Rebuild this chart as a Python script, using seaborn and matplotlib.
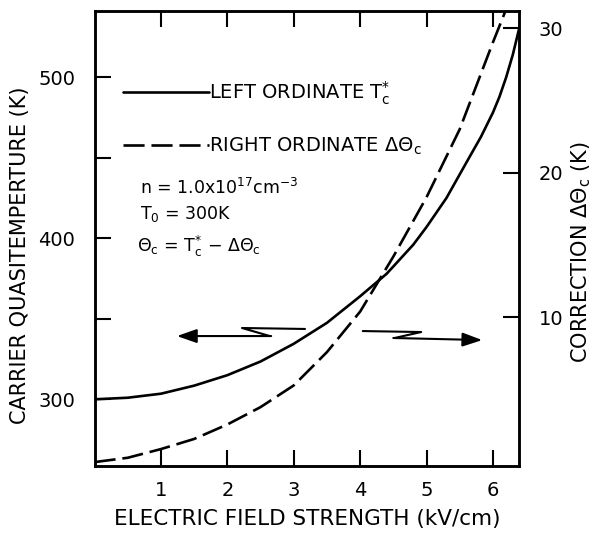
import matplotlib
matplotlib.use("Agg")
import matplotlib.pyplot as plt
import seaborn as sns

# ---- data ----
field_left = [0.0, 0.5, 1.0, 1.5, 2.0, 2.5, 3.0, 3.5, 4.0, 4.4, 4.8, 5.0, 5.3, 5.6, 5.82, 6.0, 6.1, 6.2, 6.3, 6.4]
temp_left = [300, 301, 303.5, 308.5, 315, 323.5, 334.5, 347.5, 364, 378, 396, 407, 425, 447, 463, 478, 488, 500, 514, 531]

field_right = [0.0, 0.5, 1.0, 1.5, 2.0, 2.5, 3.0, 3.5, 4.0, 4.5, 5.0, 5.5, 6.0, 6.2]
corr_right = [0.0, 0.3, 0.9, 1.6, 2.6, 3.8, 5.3, 7.6, 10.4, 14.2, 18.3, 23.0, 29.0, 31.3]

x_ticks = [1, 2, 3, 4, 5, 6]
x_ticklabels = ["1", "2", "3", "4", "5", "6"]
left_ticks = [300, 350, 400, 450, 500]
left_ticklabels = ["300", "", "400", "", "500"]
right_ticks = [10, 20, 30]
right_ticklabels = ["10", "20", "30"]

label_left = r"LEFT ORDINATE $\mathregular{T_c^{*}}$"
label_right = r"RIGHT ORDINATE $\mathregular{\Delta\Theta_c}$"

sns.set_theme(style="ticks")
plt.rcParams['font.family'] = ['DejaVu Sans']
plt.rcParams['mathtext.default'] = 'regular'
plt.rcParams['text.color'] = 'black'
plt.rcParams['axes.labelcolor'] = 'black'

fig = plt.figure(figsize=(5.95, 5.36), dpi=100)
ax = fig.add_axes([0.159, 0.1306, 0.714, 0.849])
ax2 = ax.twinx()

sns.lineplot(x=field_left, y=temp_left, ax=ax, color='black', linewidth=1.9,
             label=label_left, legend=False)
sns.lineplot(x=field_right, y=corr_right, ax=ax2, color='black', linewidth=1.9,
             linestyle=(0, (8, 2.6)), label=label_right, legend=False)

ax.set_xlim(0, 6.4)
ax.set_ylim(258.6, 541.2)
ax2.set_ylim(-0.27, 31.18)

ax.set_xticks(x_ticks)
ax.set_xticklabels(x_ticklabels)
ax.set_yticks(left_ticks)
ax.set_yticklabels(left_ticklabels)
ax2.set_yticks(right_ticks)
ax2.set_yticklabels(right_ticklabels)

ax.tick_params(axis='x', direction='in', length=11.5, width=1.5, top=True,
               labeltop=False, labelsize=14, pad=11, colors='black')
ax.tick_params(axis='y', direction='in', length=11.5, width=1.5, right=False,
               labelsize=14, pad=14, colors='black')
ax2.tick_params(axis='y', direction='in', length=11.5, width=1.5,
                labelsize=14, pad=14, colors='black')

for a in (ax, ax2):
    for s in a.spines.values():
        s.set_visible(True)
        s.set_linewidth(1.8)
        s.set_color('black')

ax.set_xlabel("ELECTRIC FIELD STRENGTH (kV/cm)", fontsize=15.5, labelpad=6)
ax.set_ylabel("CARRIER QUASITEMPERTURE (K)", fontsize=15)
ax.yaxis.set_label_coords(-0.152, 0.464)
ax2.set_ylabel(r"CORRECTION $\mathregular{\Delta\Theta_c}$ (K)", fontsize=15)
ax2.yaxis.set_label_coords(1.117, 0.47)

# legend
h1, l1 = ax.get_legend_handles_labels()
h2, l2 = ax2.get_legend_handles_labels()
if ax.get_legend():
    ax.get_legend().remove()
leg = ax2.legend(h1 + h2, l1 + l2, loc='upper left', bbox_to_anchor=(0.068, 0.85),
                 frameon=False, fontsize=14, handlelength=4.4, handletextpad=0.0,
                 labelspacing=1.5, borderpad=0, borderaxespad=0)

# annotation text
ax2.text(0.107, 0.611, r"n = 1.0x10$^{17}$cm$^{-3}$", transform=ax.transAxes,
         fontsize=12.5, va='center', ha='left')
ax2.text(0.107, 0.554, r"T$_0$ = 300K", transform=ax.transAxes,
         fontsize=12.5, va='center', ha='left')
ax2.text(0.100, 0.4835, r"$\Theta_c$ = T$_c^{*}$ $-$ $\Delta\Theta_c$", transform=ax.transAxes,
         fontsize=12.5, va='center', ha='left')

# lightning arrows (pointing to the ordinates)
ax.plot([3.17, 2.22, 2.64], [343.7, 344.3, 339.3], color='black', lw=1.5)
ax.annotate("", xy=(1.24, 339.3), xytext=(2.66, 339.3),
            arrowprops=dict(arrowstyle='-|>,head_length=1.0,head_width=0.35',
                            color='black', lw=1.5, shrinkA=0, shrinkB=0))
ax.plot([4.04, 4.92, 4.52], [342.4, 341.8, 338.1], color='black', lw=1.5)
ax.annotate("", xy=(5.84, 336.8), xytext=(4.50, 338.1),
            arrowprops=dict(arrowstyle='-|>,head_length=1.0,head_width=0.35',
                            color='black', lw=1.5, shrinkA=0, shrinkB=0))

fig.savefig("out.png", dpi=100)
